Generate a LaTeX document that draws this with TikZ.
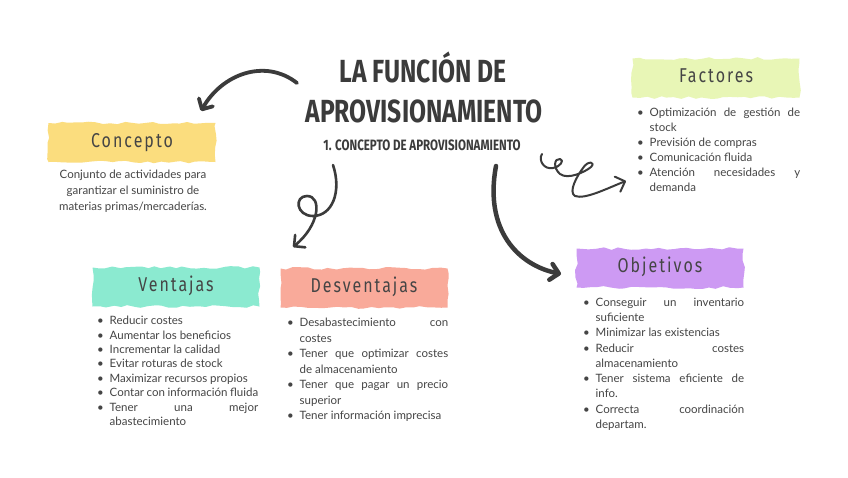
\documentclass[tikz,border=0pt]{standalone}
\usepackage{fontspec}
\setmainfont{Lato}
\newfontfamily\titlefont[FakeStretch=0.77]{Fira Sans}
\newfontfamily\headfont[FakeStretch=0.8,LetterSpace=10]{Fira Sans}
\usepackage{xcolor}
\definecolor{inkGray}{HTML}{3B3B3B}
\definecolor{textGray}{HTML}{454545}
\definecolor{concYellow}{HTML}{FBDD7E}
\definecolor{factGreen}{HTML}{E8F6B6}
\definecolor{ventMint}{HTML}{8BEAD0}
\definecolor{desvSalmon}{HTML}{F9AA9A}
\definecolor{objPurple}{HTML}{CD9AF3}
\usepackage{enumitem}
\setlist[itemize]{label={\hskip-3pt\textbullet},align=left,labelindent=0pt,labelwidth=5pt,
  labelsep=4.5pt,leftmargin=9.5pt,itemsep=0pt,topsep=0pt,parsep=0pt,partopsep=0pt}
\usetikzlibrary{arrows.meta,decorations.pathmorphing}
\tikzset{
  banner/.style={fill=#1,decorate,
    decoration={random steps,segment length=7pt,amplitude=1.4pt},
    minimum width=167pt,minimum height=39pt,inner sep=0pt,
    text height=14pt,text depth=5pt,
    font=\headfont\fontsize{20}{24}\selectfont,text=textGray},
  itemlist/.style={anchor=north west,inner sep=0pt,text width=#1,
    align=justify,text=textGray},
  itemlist/.default=158pt,
  blurb/.style={align=center,inner sep=0pt,text=textGray,
    font=\fontsize{11.5}{16}\selectfont},
  heading/.style={anchor=base,inner sep=0pt,text=inkGray,
    font=\titlefont\bfseries\fontsize{#1}{#1}\selectfont},
  sketch/.style={draw=inkGray,line width=#1,line cap=round,line join=round,
    -{Straight Barb[length=8pt,width=16pt,round]}},
  sketch/.default=3.5pt
}

\begin{document}
\begin{tikzpicture}[x=1pt,y=-1pt]
  \useasboundingbox (0,0) rectangle (848,477);
  \fill[white] (0,0) rectangle (848,477);
  \pgfmathsetseed{11}

  % title
  \node[heading=32] (title1) at (423,82) {LA FUNCIÓN DE};
  \node[heading=32] (title2) at (424,122) {APROVISIONAMIENTO};
  \node[heading=15] (subtitle) at (422,150) {1. CONCEPTO DE APROVISIONAMIENTO};

  % banners
  \node[banner=concYellow] (concepto) at (132,142.5) {Concepto};
  \node[banner=factGreen] (factores) at (716,78) {Factores};
  \node[banner=ventMint] (ventajas) at (176,287) {Ventajas};
  \node[banner=desvSalmon] (desventajas) at (364,288) {Desventajas};
  \node[banner=objPurple] (objetivos) at (660,268) {Objetivos};

  % texts
  \node[blurb] (conceptoText) at (133,191.5)
    {Conjunto de actividades para\\garantizar el suministro de\\materias primas/mercaderías.};

  \node[itemlist=160pt,font=\fontsize{11.5}{15}\selectfont] (factoresList) at (640,101.5) {%
    \begin{itemize}
      \item Optimización de gestión de\linebreak stock
      \item Previsión de compras
      \item Comunicación fluida
      \item Atención necesidades y\linebreak demanda
    \end{itemize}};
  \node[itemlist=158pt,font=\fontsize{11.5}{14.4}\selectfont] (ventajasList) at (100,310) {%
    \begin{itemize}
      \item Reducir costes
      \item Aumentar los beneficios
      \item Incrementar la calidad
      \item Evitar roturas de stock
      \item Maximizar recursos propios
      \item Contar con información fluida
      \item Tener una mejor\linebreak abastecimiento
    \end{itemize}};
  \node[itemlist=158pt,font=\fontsize{11.5}{15.5}\selectfont] (desventajasList) at (290,311) {%
    \begin{itemize}
      \item Desabastecimiento con\linebreak costes
      \item Tener que optimizar costes\linebreak de almacenamiento
      \item Tener que pagar un precio\linebreak superior
      \item Tener información imprecisa
    \end{itemize}};
  \node[itemlist=158pt,font=\fontsize{11.5}{15.25}\selectfont] (objetivosList) at (586,291) {%
    \begin{itemize}
      \item Conseguir un inventario\linebreak suficiente
      \item Minimizar las existencias
      \item Reducir costes\linebreak almacenamiento
      \item Tener sistema eficiente de\linebreak info.
      \item Correcta coordinación\linebreak departam.
    \end{itemize}};

  % arrows
  \coordinate (toConcepto) at (297,83);
  \coordinate (toConceptoEnd) at (201,111);
  \coordinate (toVentajas) at (333,165);
  \coordinate (toVentajasEnd) at (293,247);
  \coordinate (toObjetivos) at (496,166);
  \coordinate (toObjetivosEnd) at (561,274);
  \coordinate (toFactores) at (542,154);
  \coordinate (toFactoresEnd) at (626,181);

  \draw[sketch=3.8pt] (toConcepto) .. controls (265,58) and (222,74) .. (toConceptoEnd);
  \draw[sketch=2.6pt] (toVentajas) .. controls (342,192) and (332,216) .. (313,216)
    .. controls (296,216) and (294,196) .. (307,196)
    .. controls (322,196) and (320,225) .. (toVentajasEnd);
  \draw[sketch=4.5pt] (toObjetivos) .. controls (484,230) and (518,265) .. (toObjetivosEnd);
  \draw[sketch=2pt] (toFactores) .. controls (538,160) and (544,170) .. (553,168)
    .. controls (560,167) and (565,160) .. (560,159)
    .. controls (554,158) and (553,168) .. (560,174)
    .. controls (568,180) and (585,172) .. (591,167)
    .. controls (596,162) and (588,160) .. (583,168)
    .. controls (577,176) and (568,192) .. (575,196)
    .. controls (585,200) and (610,187) .. (toFactoresEnd);
\end{tikzpicture}
\end{document}
